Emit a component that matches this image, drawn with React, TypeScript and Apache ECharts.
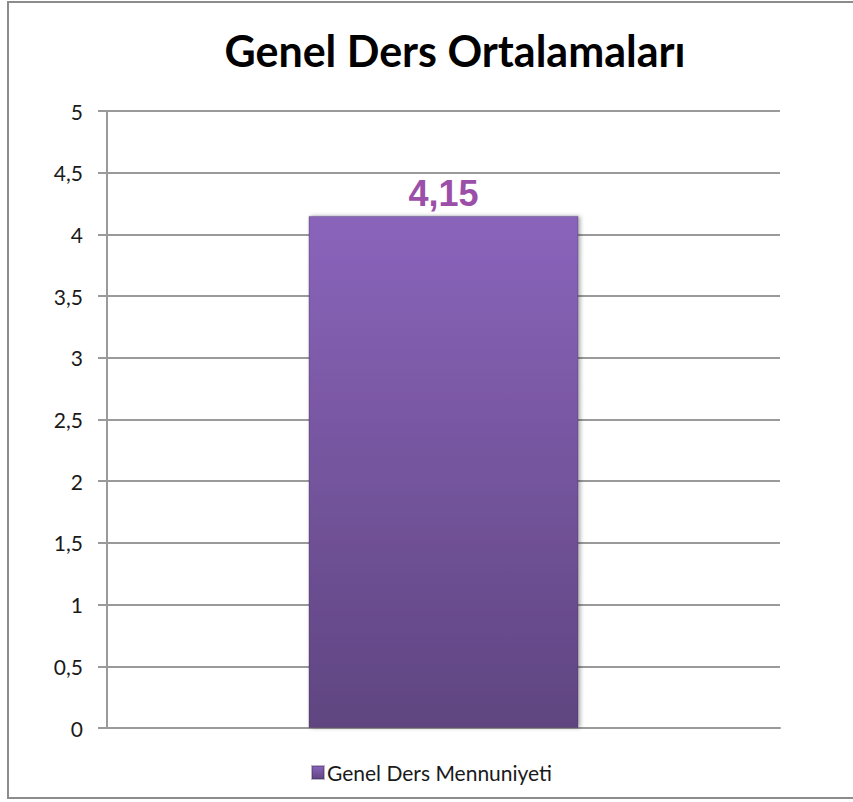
import React, { useEffect, useRef } from "react";
import * as echarts from "echarts";

const titleText = "Genel Ders Ortalamaları";
const categories = ["Genel Ders Mennuniyeti"];
const seriesName = "Genel Ders Mennuniyeti";
const values = [4.15];
const yMin = 0;
const yMax = 5;
const yInterval = 0.5;

export default function App() {
  const ref = useRef<HTMLDivElement>(null);
  useEffect(() => {
    if (!ref.current) return;
    const chart = echarts.init(ref.current, undefined, { renderer: "svg" });
    const fmt = (v: number) => String(v).replace(".", ",");
    chart.setOption({
      animation: false,
      backgroundColor: "#ffffff",
      title: {
        text: titleText,
        left: 450,
        textAlign: "center",
        top: 24,
        textStyle: {
          fontFamily: "Lato",
          fontWeight: "bold",
          fontSize: 43,
          color: "#000000",
        },
      },
      graphic: [
        {
          type: "rect",
          shape: { x: 8, y: 2, width: 900, height: 796 },
          style: { fill: "none", stroke: "#8c8c8c", lineWidth: 2 },
          silent: true,
        },
      ],
      legend: {
        data: [seriesName],
        left: 306,
        top: 757,
        icon: "rect",
        itemWidth: 12,
        itemHeight: 13,
        itemGap: 4,
        textStyle: {
          fontFamily: "Lato",
          fontSize: 21,
          color: "#1a1a1a",
          padding: [0, 0, 0, -2],
        },
      },
      grid: { left: 107, right: 73, top: 111, bottom: 74, containLabel: false },
      xAxis: {
        type: "category",
        data: categories,
        axisLine: { show: true, lineStyle: { color: "#9a9a9a", width: 2 } },
        axisTick: { show: false },
        axisLabel: { show: false },
      },
      yAxis: {
        type: "value",
        min: yMin,
        max: yMax,
        interval: yInterval,
        axisLine: { show: true, lineStyle: { color: "#9a9a9a", width: 2 } },
        axisTick: { show: true, length: 9, lineStyle: { color: "#9a9a9a", width: 2 } },
        splitLine: { show: true, lineStyle: { color: "#9a9a9a", width: 2 } },
        axisLabel: {
          formatter: fmt,
          margin: 24,
          fontFamily: "Lato",
          fontSize: 21,
          color: "#1a1a1a",
        },
      },
      series: [
        {
          name: seriesName,
          type: "bar",
          data: values,
          barWidth: 270,
          itemStyle: {
            color: new echarts.graphic.LinearGradient(0, 0, 0, 1, [
              { offset: 0, color: "#8a64bb" },
              { offset: 1, color: "#5f4580" },
            ]),
            borderColor: "rgba(60,40,90,0.35)",
            borderWidth: 1,
            shadowColor: "rgba(0,0,0,0.35)",
            shadowBlur: 4,
            shadowOffsetX: 2,
            shadowOffsetY: 0,
          },
          label: {
            show: true,
            position: "top",
            distance: 4,
            formatter: (p: any) => fmt(p.value),
            fontFamily: "Liberation Sans",
            fontWeight: "bold",
            fontSize: 36,
            color: "#9b4fa8",
          },
        },
      ],
    });
    return () => chart.dispose();
  }, []);
  return (
    <div
      ref={ref}
      style={{ position: "fixed", left: 0, top: 0, width: 853, height: 802 }}
    />
  );
}
